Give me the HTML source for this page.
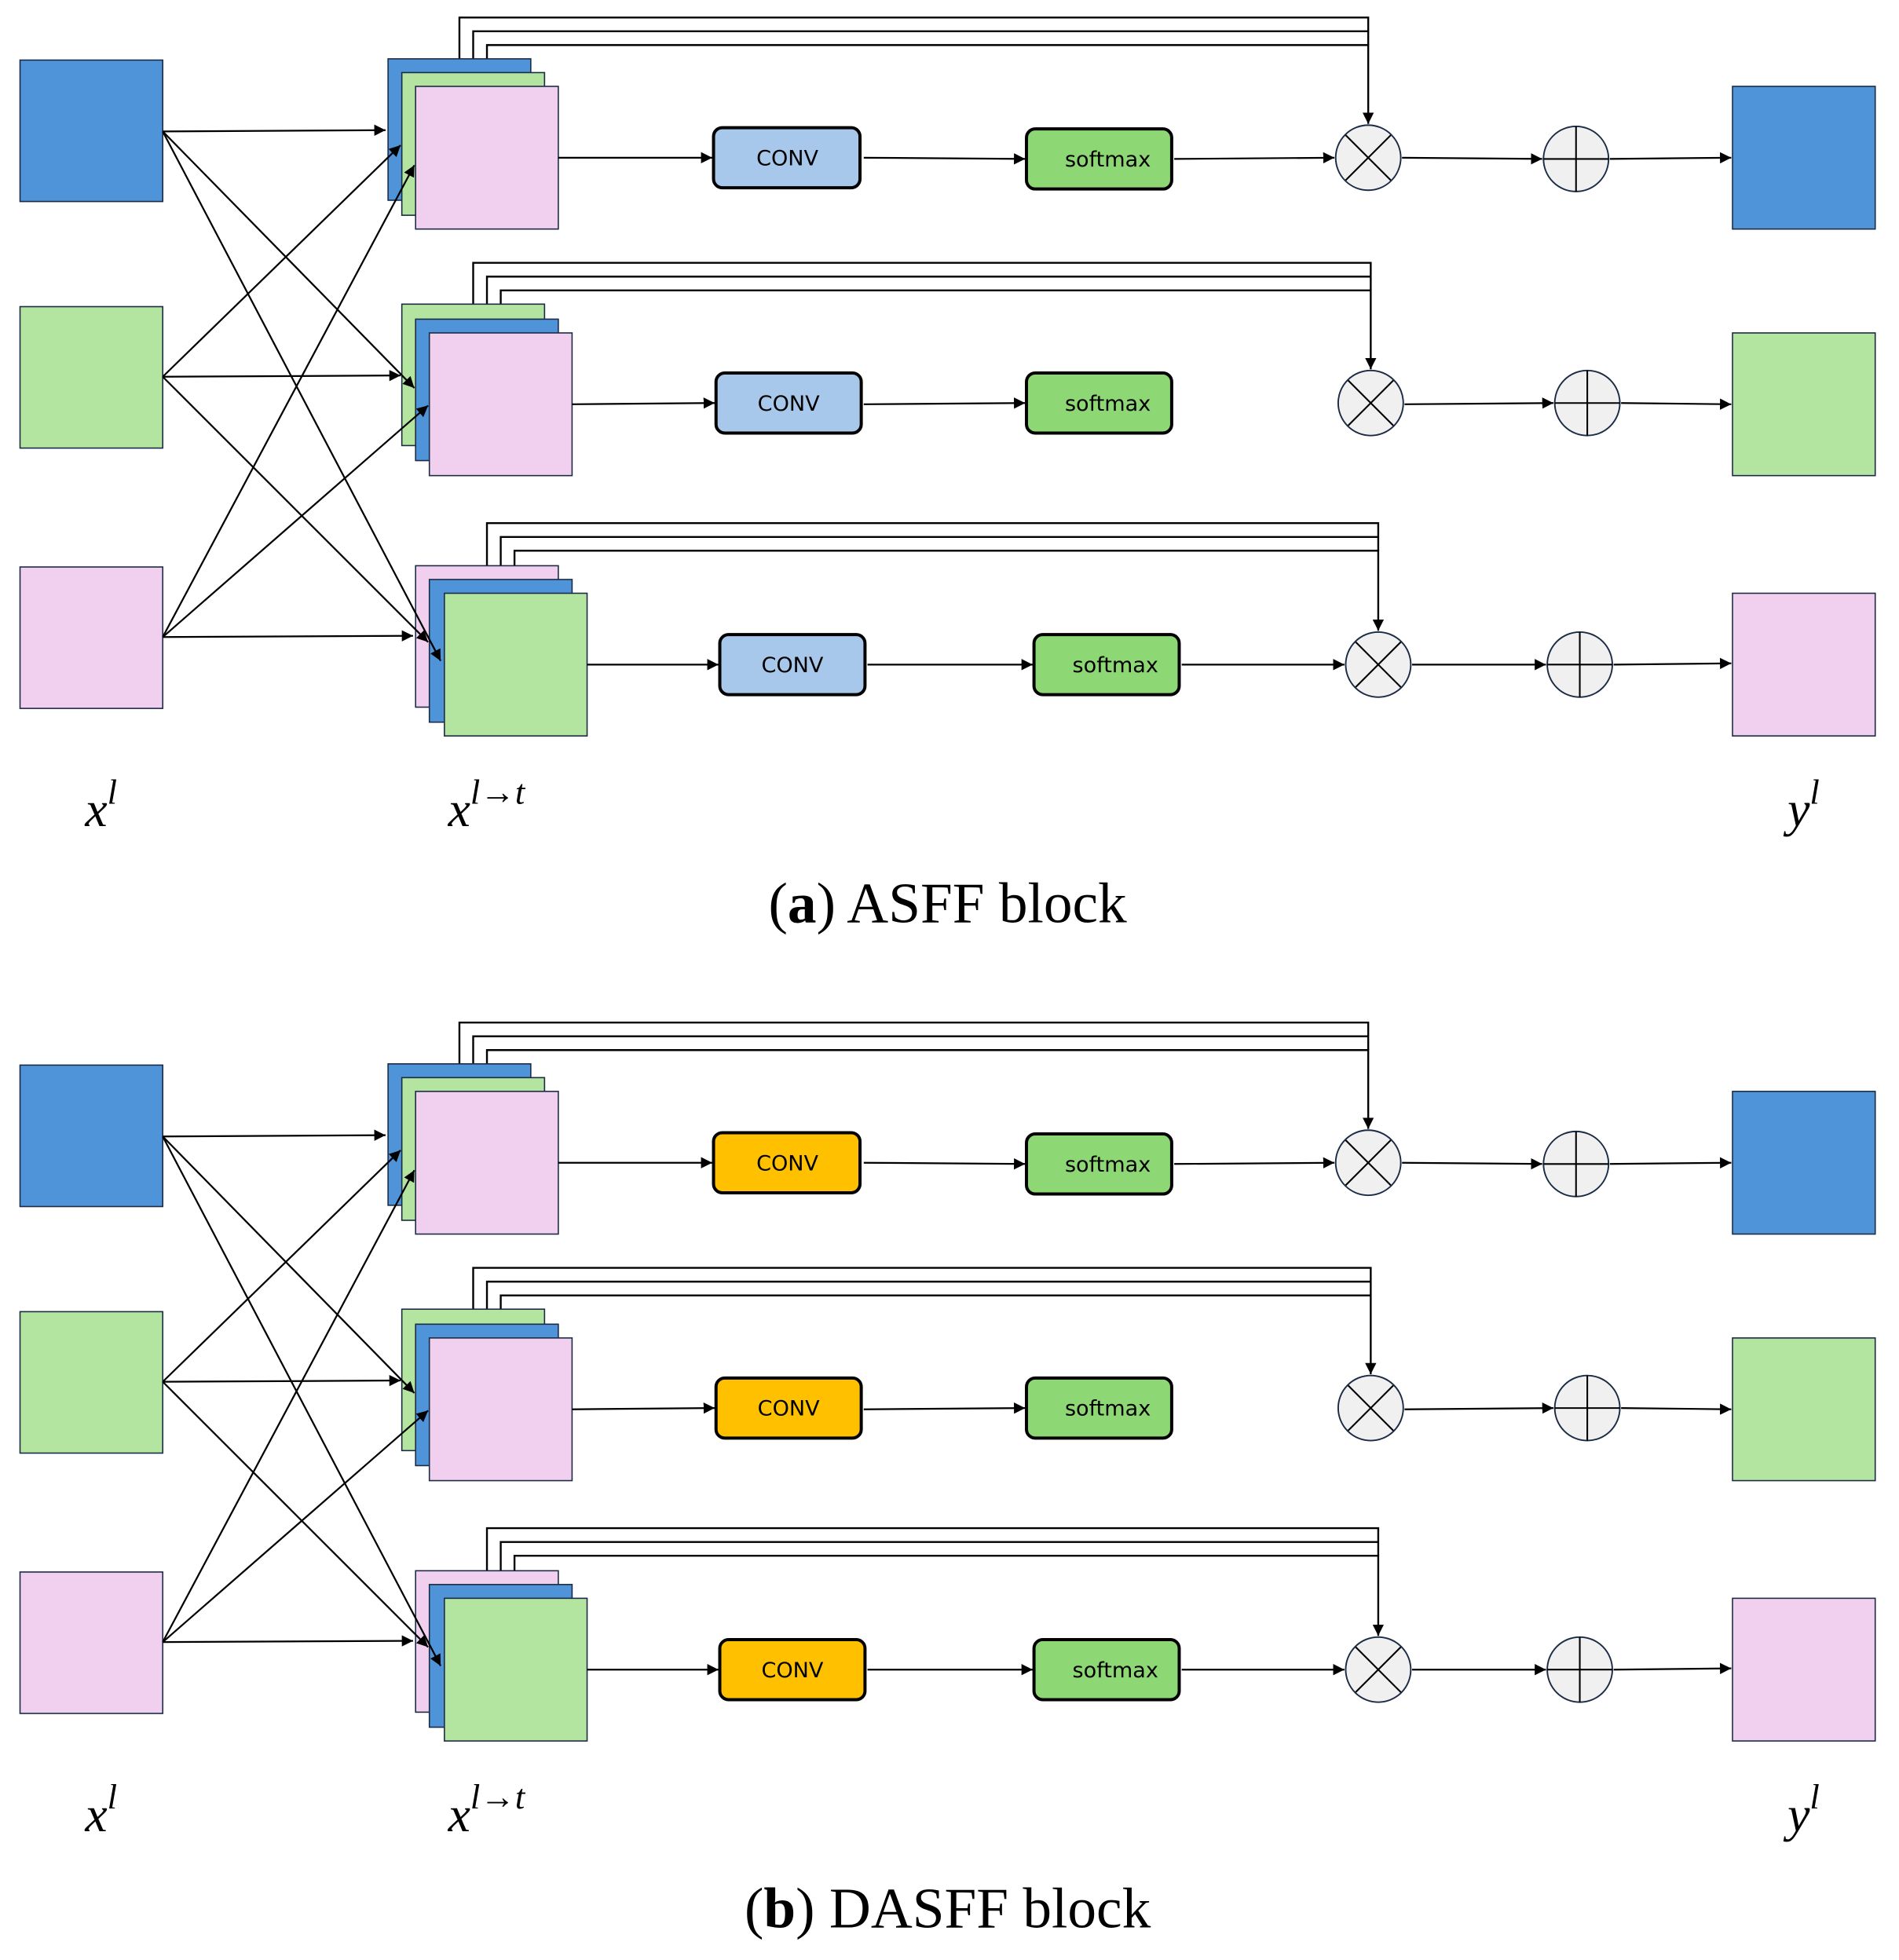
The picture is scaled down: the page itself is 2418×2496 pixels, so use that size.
<!DOCTYPE html>
<html><head><meta charset="utf-8"><style>html,body{margin:0;padding:0;background:#fff}svg{display:block}</style></head>
<body>
<svg width="2418" height="2496" viewBox="0 0 1517 1566" preserveAspectRatio="none" xmlns="http://www.w3.org/2000/svg">
<defs>
<marker id="a" viewBox="0 0 10 10" refX="10" refY="5" markerWidth="9" markerHeight="9" markerUnits="userSpaceOnUse" orient="auto"><path d="M0,0 L10,5 L0,10 z" fill="#000"/></marker>
<g id="sec">
 <g stroke="#1c2b45" stroke-width="1">
  <rect x="16" y="48" width="114" height="113" fill="#4F94D8"/>
  <rect x="16" y="245" width="114" height="113" fill="#B3E4A0"/>
  <rect x="16" y="453" width="114" height="113" fill="#F0D0EE"/>
  <rect x="1384" y="69" width="114" height="114" fill="#4F94D8"/>
  <rect x="1384" y="266" width="114" height="114" fill="#B3E4A0"/>
  <rect x="1384" y="474" width="114" height="114" fill="#F0D0EE"/>
 </g>
 <g fill="none" stroke="#000" stroke-width="1.5">
  <polyline points="367,47 367,14 1093,14 1093,36"/>
  <polyline points="378,58 378,25 1093,25"/>
  <polyline points="389,69 389,36 1093,36 1093,99" marker-end="url(#a)"/>
  <polyline points="378,243 378,210 1095,210 1095,232"/>
  <polyline points="389,255 389,221 1095,221"/>
  <polyline points="400,266 400,232 1095,232 1095,295" marker-end="url(#a)"/>
  <polyline points="389,452 389,418 1101,418 1101,440"/>
  <polyline points="400,463 400,429 1101,429"/>
  <polyline points="411,474 411,440 1101,440 1101,504" marker-end="url(#a)"/>
 </g>
 <g stroke="#1c2b45" stroke-width="1">
  <rect x="310" y="47" width="114" height="113" fill="#4F94D8"/>
  <rect x="321" y="58" width="114" height="114" fill="#B3E4A0"/>
  <rect x="332" y="69" width="114" height="114" fill="#F0D0EE"/>
  <rect x="321" y="243" width="114" height="113" fill="#B3E4A0"/>
  <rect x="332" y="255" width="114" height="113" fill="#4F94D8"/>
  <rect x="343" y="266" width="114" height="114" fill="#F0D0EE"/>
  <rect x="332" y="452" width="114" height="113" fill="#F0D0EE"/>
  <rect x="343" y="463" width="114" height="114" fill="#4F94D8"/>
  <rect x="355" y="474" width="114" height="114" fill="#B3E4A0"/>
 </g>
 <g stroke="#000" stroke-width="1.4" fill="none" marker-end="url(#a)">
  <line x1="130" y1="105" x2="308" y2="104"/>
  <line x1="130" y1="301" x2="320" y2="116"/>
  <line x1="130" y1="509" x2="331" y2="132"/>
  <line x1="130" y1="301" x2="320" y2="300"/>
  <line x1="130" y1="105" x2="331" y2="310"/>
  <line x1="130" y1="509" x2="342" y2="324"/>
  <line x1="130" y1="509" x2="330" y2="508"/>
  <line x1="130" y1="301" x2="342" y2="513"/>
  <line x1="130" y1="105" x2="352" y2="528"/>
 </g>
 <g stroke="#000" stroke-width="1.4" fill="none" marker-end="url(#a)">
  <line x1="446" y1="126" x2="569" y2="126"/>
  <line x1="690" y1="126" x2="819" y2="127"/>
  <line x1="938" y1="127" x2="1066" y2="126"/>
  <line x1="1120" y1="126" x2="1232" y2="127"/>
  <line x1="1286" y1="127" x2="1383" y2="126"/>
  <line x1="457" y1="323" x2="571" y2="322"/>
  <line x1="690" y1="323" x2="819" y2="322"/>
  <line x1="1122" y1="323" x2="1241" y2="322"/>
  <line x1="1295" y1="322" x2="1383" y2="323"/>
  <line x1="469" y1="531" x2="574" y2="531"/>
  <line x1="693" y1="531" x2="825" y2="531"/>
  <line x1="944" y1="531" x2="1074" y2="531"/>
  <line x1="1128" y1="531" x2="1235" y2="531"/>
  <line x1="1289" y1="531" x2="1383" y2="530"/>
 </g>
 <g stroke="#000" stroke-width="2.5">
  <rect x="570" y="102" width="117" height="48" rx="7" fill="currentColor"/>
  <rect x="820" y="103" width="116" height="48" rx="7" fill="#8DD874"/>
  <rect x="572" y="298" width="116" height="48" rx="7" fill="currentColor"/>
  <rect x="820" y="298" width="116" height="48" rx="7" fill="#8DD874"/>
  <rect x="575" y="507" width="116" height="48" rx="7" fill="currentColor"/>
  <rect x="826" y="507" width="116" height="48" rx="7" fill="#8DD874"/>
 </g>
 <g font-family="DejaVu Sans, sans-serif" font-size="17" text-anchor="middle" fill="#000">
  <text x="629" y="132">CONV</text><text x="885" y="133">softmax</text>
  <text x="630" y="328">CONV</text><text x="885" y="328">softmax</text>
  <text x="633" y="537">CONV</text><text x="891" y="537">softmax</text>
 </g>
 <g stroke="#1c2b45" stroke-width="1.2" fill="#F0F0F0">
  <circle cx="1093" cy="126" r="26"/><circle cx="1259" cy="127" r="26"/>
  <circle cx="1095" cy="322" r="26"/><circle cx="1268" cy="322" r="26"/>
  <circle cx="1101" cy="531" r="26"/><circle cx="1262" cy="531" r="26"/>
 </g>
 <g stroke="#000" stroke-width="1.3">
  <path d="M1075,108 L1111,144 M1111,108 L1075,144"/>
  <path d="M1077,304 L1113,340 M1113,304 L1077,340"/>
  <path d="M1083,513 L1119,549 M1119,513 L1083,549"/>
  <path d="M1259,101 V153 M1233,127 H1285"/>
  <path d="M1268,296 V348 M1242,322 H1294"/>
  <path d="M1262,505 V557 M1236,531 H1288"/>
 </g>
 <g font-family="Liberation Serif, serif" font-style="italic" fill="#000">
  <text x="68" y="660" font-size="40">x<tspan font-size="28" dy="-18">l</tspan></text>
  <text x="358" y="660" font-size="40">x<tspan font-size="28" dy="-18">l→t</tspan></text>
  <text x="1428" y="660" font-size="40">y<tspan font-size="28" dy="-18">l</tspan></text>
 </g>
</g>
</defs>
<use href="#sec" color="#A7C8EB"/>
<text x="757" y="737" font-family="Liberation Serif, serif" font-size="46" text-anchor="middle">(<tspan font-weight="bold">a</tspan>) ASFF block</text>
<use href="#sec" color="#FFC000" transform="translate(0,803)"/>
<text x="757" y="1540" font-family="Liberation Serif, serif" font-size="46" text-anchor="middle">(<tspan font-weight="bold">b</tspan>) DASFF block</text>
</svg>
</body></html>
